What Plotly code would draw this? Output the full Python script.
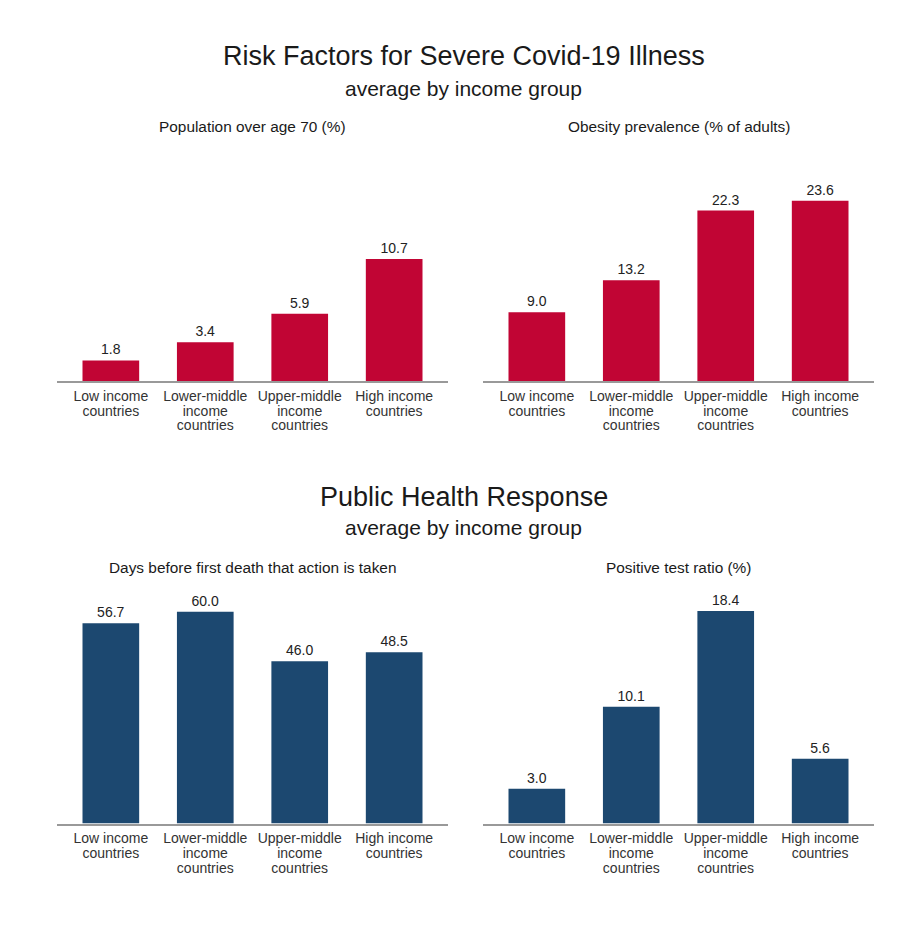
import plotly.graph_objects as go

# ---- data ----
categories = ["Low income countries", "Lower-middle income countries",
              "Upper-middle income countries", "High income countries"]
tick_lines = [["Low income", "countries"], ["Lower-middle", "income", "countries"],
              ["Upper-middle", "income", "countries"], ["High income", "countries"]]

pop_over_70 = [1.8, 3.4, 5.9, 10.7]
obesity = [9.0, 13.2, 22.3, 23.6]
days_before_death = [56.7, 60.0, 46.0, 48.5]
positive_test_ratio = [3.0, 10.1, 18.4, 5.6]

panel_titles = ["Population over age 70 (%)", "Obesity prevalence (% of adults)",
                "Days before first death that action is taken", "Positive test ratio (%)"]
section_titles = ["Risk Factors for Severe Covid-19 Illness", "Public Health Response"]
section_subtitle = "average by income group"

RED = "#C10534"
BLUE = "#1C4870"
OFF = 8  # page body margin
W, H = 923 - 2 * OFF, 926 - 2 * OFF
FONT = "Liberation Sans, Arial, sans-serif"

def px_x(p):
    return (p - OFF) / W

def px_y(p):
    return 1 - (p - OFF) / H

# tick text: glyphs at 14px, line spacing from a smaller base size
tick_labels = ["<br>".join(f"<span style='font-size:14px'>{s}</span>" for s in lines)
               for lines in tick_lines]

panels = [
    (pop_over_70, RED, (57, 448), (381, 151), 20.18),
    (obesity, RED, (483, 874), (381, 151), 30.1),
    (days_before_death, BLUE, (57, 448), (823.5, 593.5), 65.16),
    (positive_test_ratio, BLUE, (483, 874), (823.5, 593.5), 19.91),
]

fig = go.Figure()
layout = dict(
    width=W, height=H,
    margin=dict(l=0, r=0, t=0, b=0),
    paper_bgcolor="white", plot_bgcolor="white",
    showlegend=False,
    font=dict(family=FONT, color="#222222"),
    annotations=[],
)

for i, (vals, color, xd, yd, ymax) in enumerate(panels):
    n = "" if i == 0 else str(i + 1)
    fig.add_trace(go.Bar(
        x=categories, y=vals, marker=dict(color=color, line=dict(width=0)),
        width=0.6, text=[f"{v:.1f}" for v in vals], textposition="outside",
        textfont=dict(size=14, color="#222222", family=FONT),
        cliponaxis=False, xaxis="x" + n, yaxis="y" + n, hoverinfo="skip",
    ))
    layout["xaxis" + n] = dict(
        domain=[px_x(xd[0]), px_x(xd[1])], range=[-0.57, 3.57],
        anchor="y" + n, tickvals=categories, ticktext=tick_labels,
        tickfont=dict(size=11.4, color="#333333", family=FONT),
        ticklabelstandoff=4,
        showline=True, linecolor="#999999", linewidth=2,
        ticks="", showgrid=False, zeroline=False, fixedrange=True,
    )
    layout["yaxis" + n] = dict(
        domain=[px_y(yd[0]), px_y(yd[1])], range=[0, ymax],
        anchor="x" + n, showticklabels=False, showgrid=False,
        zeroline=False, showline=False, ticks="", fixedrange=True,
    )
    cx = (xd[0] + xd[1]) / 2
    ty = 127 if i < 2 else 567
    layout["annotations"].append(dict(
        text=panel_titles[i], xref="paper", yref="paper",
        x=px_x(cx), y=px_y(ty), xanchor="center", yanchor="middle",
        showarrow=False, font=dict(size=15.4, color="#1a1a1a", family=FONT)))

for title, ty, sy in [(section_titles[0], 56, 88), (section_titles[1], 497, 527)]:
    layout["annotations"].append(dict(
        text=title, xref="paper", yref="paper", x=px_x(463.5), y=px_y(ty),
        xanchor="center", yanchor="middle", showarrow=False,
        font=dict(size=27, color="#1a1a1a", family=FONT)))
    layout["annotations"].append(dict(
        text=section_subtitle, xref="paper", yref="paper", x=px_x(463.5), y=px_y(sy),
        xanchor="center", yanchor="middle", showarrow=False,
        font=dict(size=21, color="#1a1a1a", family=FONT)))

fig.update_layout(**layout)
fig.write_html("out.html", config={"displayModeBar": False})
